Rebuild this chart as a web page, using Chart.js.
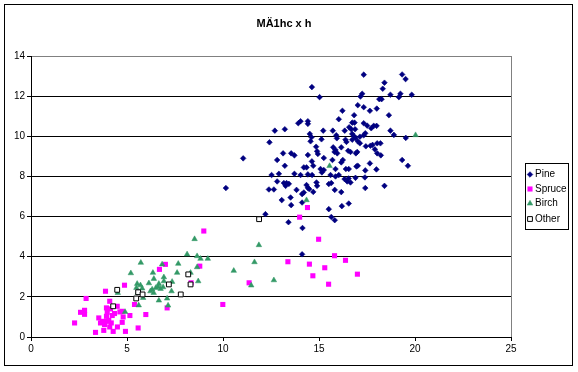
<!DOCTYPE html>
<html><head><meta charset="utf-8">
<script src="https://cdn.jsdelivr.net/npm/chart.js@4"></script>
<style>html,body{margin:0;padding:0;background:#fff}#wrap{width:578px;height:372px;position:relative}</style>
</head><body><div id="wrap"><canvas id="c" width="578" height="372"></canvas></div>
<script>
const chartTitle = 'MÄ1hc x h';
const seriesNames = ['Pine', 'Spruce', 'Birch', 'Other'];
const xTickValues = [0, 5, 10, 15, 20, 25];
const yTickValues = [0, 2, 4, 6, 8, 10, 12, 14];

const pineX = [17.33,19.33,19.51,18.41,14.63,18.32,15.03,17.16,17.25,18.72,19.24,19.16,19.83,18.14,18.26,17.02,17.33,18.01,16.22,17.65,
16.83,18.64,16.03,14.04,13.92,14.42,14.42,16.73,16.85,17.33,17.51,17.85,18.0,17.72,12.7,13.22,16.57,16.68,16.88,15.22,
15.72,16.34,18.72,18.9,14.52,14.61,14.56,15.9,15.93,16.73,16.81,16.73,16.9,17.13,17.41,17.33,15.13,16.38,16.43,12.42,
17.02,17.13,17.44,17.68,17.79,18.03,18.2,19.52,14.85,14.9,14.94,15.74,15.86,15.81,15.95,16.16,16.52,16.64,16.99,16.92,
17.91,18.03,18.22,13.13,13.55,13.72,14.42,15.25,11.05,12.82,14.63,15.7,16.24,19.33,17.65,16.16,
13.22,14.21,14.35,14.7,15.08,15.15,15.86,16.4,16.55,16.95,17.02,17.41,17.99,19.63,12.53,12.91,13.72,14.04,14.42,14.64,
15.25,15.6,15.86,16.03,16.33,16.47,16.64,16.54,16.9,17.39,12.82,13.17,13.31,13.26,13.43,13.83,14.35,14.42,14.49,14.87,
14.9,15.51,15.64,15.82,16.16,17.41,18.41,10.15,12.39,12.65,13.06,13.52,13.55,14.12,14.21,14.7,14.12,15.51,16.19,16.55,
12.21,13.41,15.64,15.82,14.14,14.12];
const pineY = [13.07,13.08,12.85,12.67,12.45,12.37,11.95,11.98,12.12,12.07,12.12,11.95,12.07,11.85,11.85,11.55,11.45,11.38,11.27,11.27,
11.05,11.05,10.85,10.75,10.65,10.75,10.62,10.68,10.68,10.65,10.53,10.52,10.52,10.4,10.28,10.35,10.45,10.35,10.35,10.28,
10.28,10.28,10.28,10.07,10.12,9.95,9.75,10.05,9.9,10.12,10.02,9.83,9.92,9.98,10.15,10.05,9.85,9.83,9.72,9.7,
9.75,9.65,9.5,9.53,9.57,9.65,9.65,9.92,9.48,9.25,9.12,9.45,9.32,9.22,9.15,9.45,9.28,9.22,9.22,9.15,
9.35,9.15,9.05,9.15,9.15,9.05,9.07,8.92,8.9,8.82,8.75,8.82,8.82,8.82,8.65,8.7,
8.53,8.45,8.45,8.53,8.37,8.2,8.37,8.37,8.37,8.5,8.53,8.3,8.35,8.53,8.07,8.13,8.13,8.07,8.1,8.07,
8.32,8.07,8.0,8.07,7.87,7.75,7.7,7.9,7.93,7.95,7.75,7.67,7.67,7.53,7.63,7.33,7.57,7.43,7.37,7.7,
7.53,7.62,7.67,7.33,7.22,7.42,7.53,7.42,7.35,7.35,6.82,6.95,6.57,7.12,7.2,7.23,6.7,6.37,6.52,6.65,
6.12,5.72,5.98,5.82,5.43,4.12];

const spruceX = [2.27,2.58,2.79,2.79,2.87,3.36,3.53,3.62,3.71,3.79,3.83,3.88,3.93,3.93,3.93,3.97,4.05,4.1,4.1,4.14,
4.18,4.23,4.28,4.35,4.49,4.5,4.63,4.75,4.75,4.8,4.87,4.92,5.15,5.39,5.58,5.98,6.69,7.0,7.09,8.34,
8.79,9.0,9.99,11.36,13.38,13.99,14.4,14.5,14.68,14.98,15.3,15.5,15.81,16.38,17.0];
const spruceY = [0.7,1.23,1.33,1.13,1.92,0.23,0.95,0.7,0.78,0.33,0.62,2.28,1.45,1.03,0.78,1.23,0.83,1.78,0.5,1.4,
0.7,1.07,0.28,1.17,1.53,0.5,1.25,1.28,0.73,1.0,2.58,0.28,1.07,1.62,0.45,1.12,3.37,3.62,1.45,2.7,
3.53,5.28,1.62,2.7,3.75,5.97,6.45,3.63,3.05,4.87,3.45,2.63,4.05,3.82,3.13];

const birchX = [4.52,4.9,5.2,5.49,5.53,5.56,5.61,5.7,5.72,5.79,5.84,6.14,6.22,6.31,6.35,6.4,6.39,6.5,6.62,6.66,
6.66,6.75,6.83,6.88,6.92,6.92,7.09,7.14,7.32,7.35,7.61,7.67,8.13,8.31,8.52,8.65,8.65,8.71,8.83,9.21,
10.56,11.47,11.64,11.87,12.65,14.35,15.55,20.03];
const birchY = [2.2,1.25,3.18,2.45,2.65,2.2,1.58,2.58,3.7,2.42,1.95,2.68,2.28,2.37,3.2,2.9,2.2,2.45,2.5,2.65,
1.82,2.4,3.62,2.48,2.98,2.78,1.92,1.57,2.28,2.75,3.2,3.65,4.12,3.2,4.88,4.03,3.48,2.78,3.9,3.9,
3.3,2.57,3.73,4.58,2.83,6.82,8.52,10.06];

const otherX = [4.28,4.49,5.48,5.58,5.81,7.18,7.8,8.19,8.31,11.88];
const otherY = [1.53,2.35,1.92,2.23,2.12,2.62,2.12,3.12,2.62,5.87];

const toPts = (xs, ys) => xs.map((x, i) => ({x: x, y: ys[i]}));
const FONT = "'Liberation Sans', Arial, sans-serif";

const datasets = [
  {label: seriesNames[0], data: toPts(pineX, pineY), pointStyle: 'rectRot', pointRadius: 2.8,
   backgroundColor: '#000080', borderColor: '#000080', borderWidth: 0.6, order: 4},
  {label: seriesNames[1], data: toPts(spruceX, spruceY), pointStyle: 'rect', pointRadius: 3.6,
   backgroundColor: '#FF00FF', borderColor: '#FF00FF', borderWidth: 0, order: 3},
  {label: seriesNames[2], data: toPts(birchX, birchY), pointStyle: 'triangle', pointRadius: 3.2,
   backgroundColor: '#339966', borderColor: '#339966', borderWidth: 0.5, order: 2},
  {label: seriesNames[3], data: toPts(otherX, otherY), pointStyle: 'rect', pointRadius: 3.4,
   backgroundColor: '#FFFFFF', borderColor: '#000000', borderWidth: 1, order: 1}
];

const deco = {
  id: 'deco',
  beforeDatasetsDraw(chart) {
    const ctx = chart.ctx, a = chart.chartArea;
    ctx.save();
    ctx.strokeStyle = '#808080';
    ctx.lineWidth = 1;
    ctx.beginPath();
    ctx.moveTo(Math.round(a.right) + 0.5, a.top);
    ctx.lineTo(Math.round(a.right) + 0.5, a.bottom);
    ctx.stroke();
    ctx.restore();
  },
  afterDraw(chart) {
    const ctx = chart.ctx;
    ctx.save();
    ctx.strokeStyle = '#000';
    ctx.lineWidth = 1;
    ctx.strokeRect(4.5, 4.5, 568, 361);
    ctx.fillStyle = '#000';
    ctx.font = 'bold 11px ' + FONT;
    ctx.textAlign = 'center';
    ctx.textBaseline = 'middle';
    ctx.fillText(chartTitle, 284, 24);
    ctx.strokeRect(525.5, 163.5, 43, 66);
    ctx.restore();
    const ys = [174.5, 189, 203.5, 219];
    chart.data.datasets.forEach((ds, i) => {
      ctx.save();
      ctx.fillStyle = ds.backgroundColor;
      ctx.strokeStyle = ds.borderColor;
      ctx.lineWidth = ds.borderWidth;
      Chart.helpers.drawPoint(ctx, {
        pointStyle: ds.pointStyle, radius: ds.pointRadius, rotation: 0,
        borderWidth: ds.borderWidth
      }, 530, ys[i]);
      ctx.fillStyle = '#000';
      ctx.font = '10px ' + FONT;
      ctx.textAlign = 'left';
      ctx.textBaseline = 'middle';
      ctx.fillText(ds.label, 535, ys[i]);
      ctx.restore();
    });
  }
};

new Chart(document.getElementById('c'), {
  type: 'scatter',
  data: {datasets: datasets},
  options: {
    responsive: false,
    animation: false,
    devicePixelRatio: 1,
    layout: {padding: {left: 0, right: 67, top: 56, bottom: 0}},
    plugins: {legend: {display: false}, title: {display: false}, tooltip: {enabled: false}},
    scales: {
      x: {
        type: 'linear', min: 0, max: 25,
        afterBuildTicks: s => { s.ticks = xTickValues.map(v => ({value: v})); },
        afterFit: s => { s.height = 35; },
        ticks: {color: '#000', font: {family: FONT, size: 10}, padding: 2, maxRotation: 0},
        grid: {drawOnChartArea: false, drawTicks: true, tickLength: 4, color: '#000', tickColor: '#000'},
        border: {color: '#000', width: 1}
      },
      y: {
        type: 'linear', min: 0, max: 14,
        afterBuildTicks: s => { s.ticks = yTickValues.map(v => ({value: v})); },
        afterFit: s => { s.width = 31; },
        ticks: {color: '#000', font: {family: FONT, size: 10}, padding: 2},
        grid: {drawTicks: true, tickLength: 4, tickColor: '#000',
               color: c => (c.tick && c.tick.value === 14) ? '#808080' : '#000'},
        border: {color: '#000', width: 1}
      }
    }
  },
  plugins: [deco]
});
</script></body></html>
